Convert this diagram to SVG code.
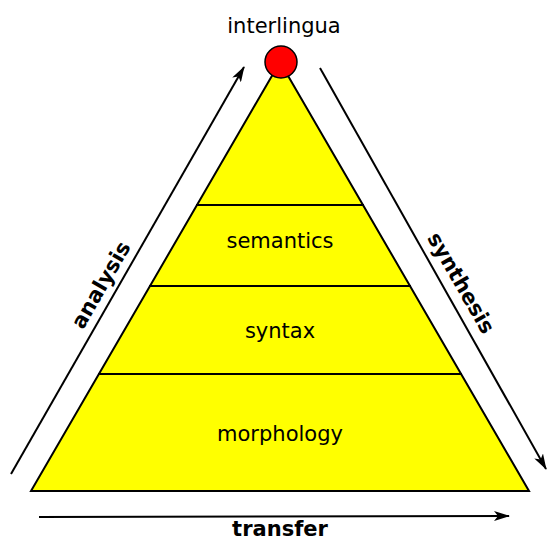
<svg xmlns="http://www.w3.org/2000/svg" width="547" height="540" viewBox="0 0 547 540">
<style>
text{font-family:"DejaVu Sans","Liberation Sans",sans-serif;font-size:21px;fill:#000;text-anchor:middle}
.b{font-weight:bold}
.ln{stroke:#000;stroke-width:2;fill:none}
</style>
<defs>
<marker id="ah" viewBox="0 0 16 10" refX="15" refY="5" markerWidth="16" markerHeight="10" markerUnits="userSpaceOnUse" orient="auto">
<path d="M0,0 L16,5 L0,10 L4,5 Z" fill="#000"/>
</marker>
</defs>
<g id="pyramid">
<polygon points="280,62 529,491 31,491" fill="#ffff00" stroke="#000" stroke-width="2"/>
<line class="ln" x1="196" y1="205" x2="364" y2="205"/>
<line class="ln" x1="149" y1="286" x2="411" y2="286"/>
<line class="ln" x1="98" y1="374" x2="462" y2="374"/>
</g>
<g id="semantics"><text x="280" y="248">semantics</text></g>
<g id="syntax"><text x="280" y="338">syntax</text></g>
<g id="morphology"><text x="280" y="441">morphology</text></g>
<g id="interlingua">
<circle cx="281" cy="62" r="16" fill="#ff0000" stroke="#000" stroke-width="1.5"/>
<text x="284" y="33">interlingua</text>
</g>
<g id="connectors">
<line class="ln" x1="11" y1="474" x2="244" y2="67" marker-end="url(#ah)"/>
<line class="ln" x1="320" y1="68" x2="546" y2="469" marker-end="url(#ah)"/>
<line class="ln" x1="39" y1="517" x2="509" y2="516" marker-end="url(#ah)"/>
</g>
<text class="b" x="101" y="285" transform="rotate(-60 101 285)" dy="7">analysis</text>
<text class="b" x="461" y="283" transform="rotate(60 461 283)" dy="7">synthesis</text>
<text class="b" x="280" y="536">transfer</text>
</svg>
